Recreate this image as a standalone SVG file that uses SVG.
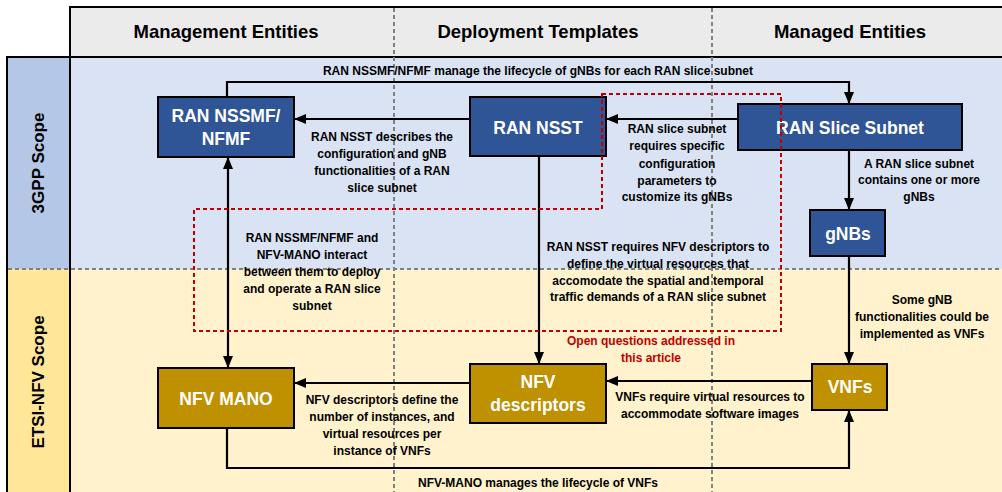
<svg xmlns="http://www.w3.org/2000/svg" width="1002" height="492" viewBox="0 0 1002 492">
  <defs>
    <marker id="arrow" viewBox="0 0 12 10" refX="11" refY="5" markerWidth="12" markerHeight="10" orient="auto-start-reverse" markerUnits="userSpaceOnUse">
      <path d="M0,0 L12,5 L0,10 z" fill="#000"/>
    </marker>
    <style>
      text { font-family: "Liberation Sans", Arial, sans-serif; font-weight: bold; }
      .hdr { font-size: 18.5px; fill: #000; text-anchor: middle; }
      .scope { font-size: 17px; fill: #000; text-anchor: middle; }
      .box-blue { fill: #2f5597; stroke: #000; stroke-width: 2; }
      .box-gold { fill: #bf9000; stroke: #000; stroke-width: 2; }
      .box-text { font-size: 17.5px; fill: #fff; text-anchor: middle; }
      .lbl { font-size: 12px; fill: #000; text-anchor: middle; }
      .red-lbl { font-size: 12px; fill: #c00000; text-anchor: middle; }
      .grid { stroke: #808080; stroke-width: 2; stroke-dasharray: 4 3; fill: none; }
      .focus { stroke: #c00000; stroke-width: 2; stroke-dasharray: 4 3; fill: none; }
      .conn { stroke: #000; stroke-width: 2.2; fill: none; }
      .frame { stroke: #000; stroke-width: 2; fill: none; }
    </style>
  </defs>

  <!-- Background bands -->
  <g id="background">
    <rect x="70" y="7" width="933" height="50" fill="#ebebeb"/>
    <rect x="70" y="57" width="933" height="212" fill="#dae3f3"/>
    <rect x="70" y="269" width="933" height="224" fill="#fff2cc"/>
    <rect x="7" y="57" width="63" height="212" fill="#b4c7e7"/>
    <rect x="7" y="269" width="63" height="224" fill="#ffe699"/>
    <path class="frame" d="M1003,7 H70 V493 M7,493 V57 H1003"/>
  </g>

  <!-- Column and scope separators -->
  <g id="separators">
    <line class="grid" x1="394" y1="8" x2="394" y2="492"/>
    <line class="grid" x1="712" y1="8" x2="712" y2="492"/>
    <line class="grid" x1="8" y1="269" x2="1002" y2="269"/>
  </g>

  <!-- Column headers -->
  <g id="headers">
    <text class="hdr" x="226" y="38">Management Entities</text>
    <text class="hdr" x="538" y="38">Deployment Templates</text>
    <text class="hdr" x="850" y="38">Managed Entities</text>
  </g>

  <!-- Scope labels -->
  <g id="scopes">
    <text class="scope" transform="translate(44,163) rotate(-90)">3GPP Scope</text>
    <text class="scope" transform="translate(44,382) rotate(-90)">ETSI-NFV Scope</text>
  </g>

  <!-- Connectors -->
  <g id="connectors">
    <polyline class="conn" points="227,97 227,82 849,82 849,103" marker-end="url(#arrow)"/>
    <line class="conn" x1="470" y1="119" x2="295" y2="119" marker-end="url(#arrow)"/>
    <line class="conn" x1="738" y1="119" x2="607" y2="119" marker-end="url(#arrow)"/>
    <line class="conn" x1="849" y1="150" x2="849" y2="209" marker-end="url(#arrow)"/>
    <line class="conn" x1="849" y1="256" x2="849" y2="363" marker-end="url(#arrow)"/>
    <line class="conn" x1="539" y1="156" x2="539" y2="363" marker-end="url(#arrow)"/>
    <line class="conn" x1="228" y1="158" x2="228" y2="367" marker-start="url(#arrow)" marker-end="url(#arrow)"/>
    <line class="conn" x1="470" y1="383" x2="295" y2="383" marker-end="url(#arrow)"/>
    <line class="conn" x1="812" y1="381" x2="607" y2="381" marker-end="url(#arrow)"/>
    <polyline class="conn" points="227,428 227,468 849,468 849,411" marker-end="url(#arrow)"/>
  </g>

  <!-- Nodes -->
  <g id="ran-nssmf">
    <rect class="box-blue" x="158" y="97" width="136" height="60"/>
    <text class="box-text" x="226" y="122">RAN NSSMF/</text>
    <text class="box-text" x="226" y="145">NFMF</text>
  </g>
  <g id="ran-nsst">
    <rect class="box-blue" x="470" y="97" width="136" height="59"/>
    <text class="box-text" x="538" y="134">RAN NSST</text>
  </g>
  <g id="ran-slice-subnet">
    <rect class="box-blue" x="738" y="104" width="224" height="46"/>
    <text class="box-text" x="850" y="134">RAN Slice Subnet</text>
  </g>
  <g id="gnbs">
    <rect class="box-blue" x="810" y="210" width="75" height="46"/>
    <text class="box-text" x="848" y="240">gNBs</text>
  </g>
  <g id="nfv-mano">
    <rect class="box-gold" x="158" y="368" width="136" height="60"/>
    <text class="box-text" x="226" y="405">NFV MANO</text>
  </g>
  <g id="nfv-descriptors">
    <rect class="box-gold" x="470" y="364" width="136" height="59"/>
    <text class="box-text" x="538" y="388">NFV</text>
    <text class="box-text" x="538" y="411">descriptors</text>
  </g>
  <g id="vnfs">
    <rect class="box-gold" x="812" y="364" width="75" height="46"/>
    <text class="box-text" x="850" y="393">VNFs</text>
  </g>

  <!-- Highlighted open-questions region -->
  <g id="open-questions">
    <polygon class="focus" points="602,94 781,94 781,331 194,331 194,209 602,209"/>
    <text class="red-lbl" x="651" y="345">Open questions addressed in</text>
    <text class="red-lbl" x="651" y="361.5">this article</text>
  </g>

  <!-- Connector labels -->
  <g id="labels">
    <text class="lbl" x="538" y="75">RAN NSSMF/NFMF manage the lifecycle of gNBs for each RAN slice subnet</text>

    <text class="lbl" x="382" y="141">RAN NSST describes the</text>
    <text class="lbl" x="382" y="158">configuration and gNB</text>
    <text class="lbl" x="382" y="175">functionalities of a RAN</text>
    <text class="lbl" x="382" y="192">slice subnet</text>

    <text class="lbl" x="677" y="133">RAN slice subnet</text>
    <text class="lbl" x="677" y="150">requires specific</text>
    <text class="lbl" x="677" y="167.5">configuration</text>
    <text class="lbl" x="677" y="184.5">parameters to</text>
    <text class="lbl" x="677" y="201">customize its gNBs</text>

    <text class="lbl" x="919" y="167.5">A RAN slice subnet</text>
    <text class="lbl" x="919" y="184">contains one or more</text>
    <text class="lbl" x="919" y="201">gNBs</text>

    <text class="lbl" x="922" y="304">Some gNB</text>
    <text class="lbl" x="922" y="321">functionalities could be</text>
    <text class="lbl" x="922" y="337.5">implemented as VNFs</text>

    <text class="lbl" x="658" y="251">RAN NSST requires NFV descriptors to</text>
    <text class="lbl" x="658" y="267.5">define the virtual resources that</text>
    <text class="lbl" x="658" y="284.5">accomodate the spatial and temporal</text>
    <text class="lbl" x="658" y="301">traffic demands of a RAN slice subnet</text>

    <text class="lbl" x="312" y="241.5">RAN NSSMF/NFMF and</text>
    <text class="lbl" x="312" y="258.5">NFV-MANO interact</text>
    <text class="lbl" x="312" y="275.5">between them to deploy</text>
    <text class="lbl" x="312" y="292.5">and operate a RAN slice</text>
    <text class="lbl" x="312" y="309.5">subnet</text>

    <text class="lbl" x="382" y="404">NFV descriptors define the</text>
    <text class="lbl" x="382" y="421">number of instances, and</text>
    <text class="lbl" x="382" y="438">virtual resources per</text>
    <text class="lbl" x="382" y="455">instance of VNFs</text>

    <text class="lbl" x="710" y="401">VNFs require virtual resources to</text>
    <text class="lbl" x="710" y="417.5">accommodate software images</text>

    <text class="lbl" x="538" y="486.5">NFV-MANO manages the lifecycle of VNFs</text>
  </g>
</svg>
